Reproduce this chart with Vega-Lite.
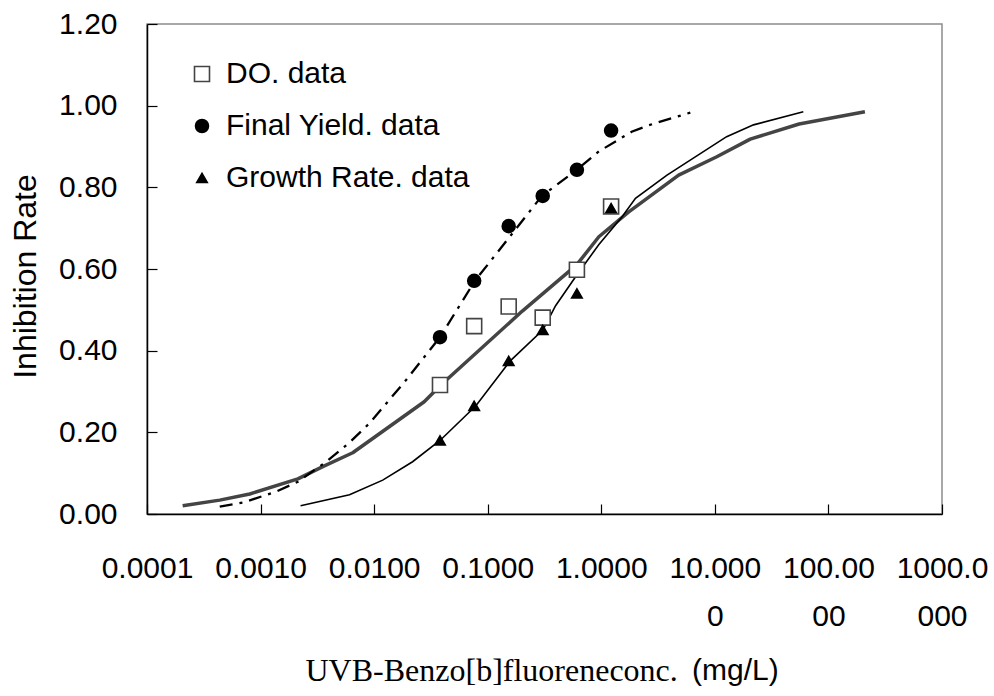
{
  "$schema": "https://vega.github.io/schema/vega-lite/v6.json",
  "autosize": {"type": "none"},
  "padding": {"left": 147, "top": 24, "right": 52, "bottom": 182},
  "width": 795,
  "height": 490,
  "background": "white",
  "title": {
    "text": "(mg/L)",
    "orient": "bottom",
    "anchor": "start",
    "frame": "group",
    "font": "Liberation Sans",
    "fontSize": 30,
    "fontWeight": "normal",
    "color": "#000000",
    "baseline": "alphabetic",
    "offset": 0,
    "dx": 545,
    "dy": -6
  },
  "datasets": {
    "observed": [
      {"series": "DO. data", "conc": 0.038, "rate": 0.316},
      {"series": "DO. data", "conc": 0.076, "rate": 0.460},
      {"series": "DO. data", "conc": 0.153, "rate": 0.508},
      {"series": "DO. data", "conc": 0.305, "rate": 0.481},
      {"series": "DO. data", "conc": 0.61, "rate": 0.598},
      {"series": "DO. data", "conc": 1.22, "rate": 0.753},
      {"series": "Final Yield. data", "conc": 0.038, "rate": 0.433},
      {"series": "Final Yield. data", "conc": 0.076, "rate": 0.571},
      {"series": "Final Yield. data", "conc": 0.153, "rate": 0.705},
      {"series": "Final Yield. data", "conc": 0.305, "rate": 0.779},
      {"series": "Final Yield. data", "conc": 0.61, "rate": 0.843},
      {"series": "Final Yield. data", "conc": 1.22, "rate": 0.939},
      {"series": "Growth Rate. data", "conc": 0.038, "rate": 0.180},
      {"series": "Growth Rate. data", "conc": 0.076, "rate": 0.265},
      {"series": "Growth Rate. data", "conc": 0.153, "rate": 0.375},
      {"series": "Growth Rate. data", "conc": 0.305, "rate": 0.451},
      {"series": "Growth Rate. data", "conc": 0.61, "rate": 0.540},
      {"series": "Growth Rate. data", "conc": 1.22, "rate": 0.749}
    ],
    "doFit": [
      {"conc": 0.000206, "rate": 0.020},
      {"conc": 0.000437, "rate": 0.034},
      {"conc": 0.000803, "rate": 0.049},
      {"conc": 0.00213, "rate": 0.086},
      {"conc": 0.00353, "rate": 0.116},
      {"conc": 0.00648, "rate": 0.150},
      {"conc": 0.0276, "rate": 0.275},
      {"conc": 0.0387, "rate": 0.316},
      {"conc": 0.2017, "rate": 0.497},
      {"conc": 0.607, "rate": 0.610},
      {"conc": 0.952, "rate": 0.679},
      {"conc": 1.746, "rate": 0.740},
      {"conc": 4.80, "rate": 0.830},
      {"conc": 10.4, "rate": 0.875},
      {"conc": 20.5, "rate": 0.918},
      {"conc": 55.2, "rate": 0.955},
      {"conc": 209.5, "rate": 0.985}
    ],
    "yieldFit": [
      {"conc": 0.000437, "rate": 0.018},
      {"conc": 0.000701, "rate": 0.028},
      {"conc": 0.00138, "rate": 0.055},
      {"conc": 0.00213, "rate": 0.079},
      {"conc": 0.00379, "rate": 0.128},
      {"conc": 0.00607, "rate": 0.175},
      {"conc": 0.00909, "rate": 0.222},
      {"conc": 0.0191, "rate": 0.328},
      {"conc": 0.038, "rate": 0.433},
      {"conc": 0.0771, "rate": 0.571},
      {"conc": 0.126, "rate": 0.646},
      {"conc": 0.30, "rate": 0.779},
      {"conc": 0.61, "rate": 0.843},
      {"conc": 0.953, "rate": 0.888},
      {"conc": 1.85, "rate": 0.936},
      {"conc": 2.61, "rate": 0.952},
      {"conc": 6.08, "rate": 0.983}
    ],
    "growthFit": [
      {"conc": 0.00225, "rate": 0.020},
      {"conc": 0.00607, "rate": 0.047},
      {"conc": 0.0119, "rate": 0.083},
      {"conc": 0.0218, "rate": 0.128},
      {"conc": 0.038, "rate": 0.180},
      {"conc": 0.0787, "rate": 0.265},
      {"conc": 0.158, "rate": 0.375},
      {"conc": 0.307, "rate": 0.451},
      {"conc": 0.396, "rate": 0.510},
      {"conc": 0.594, "rate": 0.581},
      {"conc": 0.953, "rate": 0.660},
      {"conc": 1.525, "rate": 0.728},
      {"conc": 2.0, "rate": 0.773},
      {"conc": 3.79, "rate": 0.830},
      {"conc": 12.7, "rate": 0.924},
      {"conc": 21.9, "rate": 0.953},
      {"conc": 60.1, "rate": 0.985}
    ]
  },
  "encoding": {
    "x": {
      "field": "conc",
      "type": "quantitative",
      "scale": {"type": "log", "domain": [0.0001, 1000], "nice": false},
      "axis": {
        "title": "UVB-Benzo[b]fluoreneconc.",
        "titleFont": "Liberation Serif",
        "titleFontSize": 32,
        "titleFontWeight": "normal",
        "titleColor": "#000000",
        "titleAlign": "left",
        "titleAnchor": "start",
        "titleBaseline": "alphabetic",
        "titleX": 158,
        "titleY": 166,
        "values": [0.0001, 0.001, 0.01, 0.1, 1, 10, 100, 1000],
        "labelExpr": "length(format(datum.value, '.4f')) > 6 ? [substring(format(datum.value, '.4f'), 0, 6), substring(format(datum.value, '.4f'), 6)] : format(datum.value, '.4f')",
        "labelFont": "Liberation Sans",
        "labelFontSize": 30,
        "labelColor": "#000000",
        "labelLineHeight": 48,
        "labelBaseline": "top",
        "labelPadding": 49,
        "labelFlush": false,
        "labelOverlap": false,
        "labelBound": false,
        "labelLimit": 0,
        "tickSize": -10,
        "tickColor": "#000000",
        "tickWidth": 1.2,
        "domainColor": "#000000",
        "domainWidth": 1.5,
        "grid": false
      }
    },
    "y": {
      "field": "rate",
      "type": "quantitative",
      "scale": {"domain": [0, 1.2], "nice": false},
      "axis": {
        "title": "Inhibition Rate",
        "titleFont": "Liberation Sans",
        "titleFontSize": 32,
        "titleFontWeight": "normal",
        "titleColor": "#000000",
        "titleAngle": -90,
        "titleAlign": "center",
        "titleBaseline": "middle",
        "titleX": -122,
        "titleY": 252,
        "values": [0, 0.2, 0.4, 0.6, 0.8, 1.0, 1.2],
        "format": ".2f",
        "labelFont": "Liberation Sans",
        "labelFontSize": 30,
        "labelColor": "#000000",
        "labelPadding": 40,
        "labelOverlap": false,
        "labelBound": false,
        "labelFlush": false,
        "tickSize": -10,
        "tickColor": "#000000",
        "tickWidth": 1.2,
        "domainColor": "#000000",
        "domainWidth": 1.5,
        "grid": false
      }
    }
  },
  "layer": [
    {
      "data": {"name": "doFit"},
      "mark": {"type": "line", "color": "#444444", "strokeWidth": 3.5, "strokeJoin": "round"},
      "encoding": {}
    },
    {
      "data": {"name": "yieldFit"},
      "mark": {"type": "line", "color": "#000000", "strokeWidth": 2.3, "strokeDash": [13, 7, 3, 7]},
      "encoding": {}
    },
    {
      "data": {"name": "growthFit"},
      "mark": {"type": "line", "color": "#000000", "strokeWidth": 1.6},
      "encoding": {}
    },
    {
      "data": {"name": "observed"},
      "mark": {"type": "point", "opacity": 1, "strokeWidth": 1.6},
      "encoding": {
        "shape": {
          "field": "series",
          "type": "nominal",
          "scale": {"domain": ["DO. data", "Final Yield. data", "Growth Rate. data"], "range": ["square", "circle", "triangle-up"]},
          "legend": {
            "title": null,
            "orient": "none",
            "legendX": 40,
            "legendY": 35,
            "labelFont": "Liberation Sans",
            "labelFontSize": 30,
            "labelColor": "#000000",
            "labelOffset": 9,
            "labelLimit": 0,
            "rowPadding": 22,
            "symbolStrokeWidth": 1.6
          }
        },
        "fill": {
          "field": "series",
          "type": "nominal",
          "scale": {"domain": ["DO. data", "Final Yield. data", "Growth Rate. data"], "range": ["#ffffff", "#000000", "#000000"]}
        },
        "stroke": {
          "field": "series",
          "type": "nominal",
          "scale": {"domain": ["DO. data", "Final Yield. data", "Growth Rate. data"], "range": ["#444444", "#000000", "#000000"]}
        },
        "size": {
          "field": "series",
          "type": "nominal",
          "scale": {"domain": ["DO. data", "Final Yield. data", "Growth Rate. data"], "range": [225, 110, 225]}
        }
      }
    }
  ],
  "config": {
    "view": {"stroke": "#8c8c8c", "strokeWidth": 1.5},
    "font": "Liberation Sans"
  }
}
